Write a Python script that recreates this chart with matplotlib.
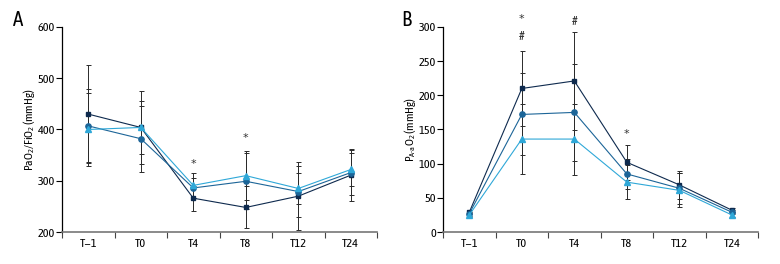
import matplotlib
matplotlib.use("Agg")
import matplotlib.pyplot as plt
import numpy as np

plt.rcParams["font.family"] = ["Asap Condensed", "Archivo Narrow", "DejaVu Sans"]
plt.rcParams["mathtext.fontset"] = "custom"
plt.rcParams["mathtext.rm"] = "Asap Condensed"
plt.rcParams["mathtext.it"] = "Asap Condensed"

timepoints = ["T\u22121", "T0", "T4", "T8", "T12", "T24"]

# panel A: PaO2/FiO2
a_square = [430, 404, 266, 248, 270, 311]
a_square_err = [96, 71, 24, 41, 66, 50]
a_circle = [407, 382, 286, 299, 279, 316]
a_circle_err = [71, 64, 20, 55, 50, 44]
a_triangle = [400, 404, 291, 310, 285, 322]
a_triangle_err = [71, 51, 24, 48, 30, 32]
a_marks = [("*", 2, 333), ("*", 3, 384)]

# panel B: P(A-a)O2
b_square = [29, 210, 221, 102, 69, 32]
b_square_err = [3, 55, 72, 26, 21, 3]
b_circle = [27, 172, 175, 85, 64, 29]
b_circle_err = [3, 60, 71, 22, 23, 3]
b_triangle = [25, 136, 136, 73, 61, 25]
b_triangle_err = [3, 51, 52, 25, 25, 3]
b_marks = [("*", 1, 311), ("#", 1, 286), ("#", 2, 308), ("*", 3, 143)]

c_dark = "#0e2a4e"
c_mid = "#1c6598"
c_light = "#2fa8d8"
fs = 8.8

fig = plt.figure(figsize=(7.8, 2.64), dpi=100)


def draw_panel(ax, series, ylim, yticks, ylabel, marks, letter, letter_x):
    x = np.arange(len(timepoints))
    for vals, errs, color, marker, ms in series:
        ax.errorbar(x, vals, yerr=errs, fmt="none", ecolor="#2a2a2a",
                    elinewidth=0.7, capsize=1.8, capthick=0.7, zorder=2)
    for vals, errs, color, marker, ms in series:
        ax.plot(x, vals, color=color, marker=marker, markersize=ms,
                linewidth=0.8, zorder=3)
    for txt, xi, yv in marks:
        if txt == "*":
            ax.text(xi, yv, txt, ha="center", va="center", fontsize=8,
                    color="#333333", family="DejaVu Sans", clip_on=False)
        else:
            ax.text(xi, yv, txt, ha="center", va="center", fontsize=9,
                    color="#333333", clip_on=False)

    ax.set_xlim(-0.5, 5.5)
    ax.set_ylim(*ylim)
    ax.set_yticks(yticks)
    ax.set_xticks(x)
    ax.set_xticklabels(timepoints)
    ax.set_xticks(np.arange(-0.5, 6.0, 1.0), minor=True)
    ax.tick_params(axis="x", which="major", length=0, pad=4, labelsize=fs)
    ax.tick_params(axis="x", which="minor", length=4, width=0.8, color="#444444")
    ax.tick_params(axis="y", length=4, width=0.8, pad=1, labelsize=fs)
    ax.spines["top"].set_visible(False)
    ax.spines["right"].set_visible(False)
    ax.spines["left"].set_linewidth(0.9)
    ax.spines["bottom"].set_linewidth(1.2)
    ax.spines["bottom"].set_color("#777777")
    ax.set_ylabel(ylabel, fontsize=8.5)
    ax.yaxis.set_label_coords(-0.078, 0.5)
    fig.text(letter_x, 0.926, letter, fontsize=15, ha="left", va="center")


ax_a = fig.add_axes([0.0795, 0.121, 0.404, 0.777])
draw_panel(
    ax_a,
    [(a_square, a_square_err, c_dark, "s", 3.5),
     (a_circle, a_circle_err, c_mid, "o", 3.8),
     (a_triangle, a_triangle_err, c_light, "^", 3.8)],
    (200, 600), [200, 300, 400, 500, 600],
    r"PaO$_\mathregular{2}$/FiO$_\mathregular{2}$ (mmHg)",
    a_marks, "A", 0.016,
)

ax_b = fig.add_axes([0.568, 0.121, 0.404, 0.777])
draw_panel(
    ax_b,
    [(b_square, b_square_err, c_dark, "s", 3.5),
     (b_circle, b_circle_err, c_mid, "o", 3.8),
     (b_triangle, b_triangle_err, c_light, "^", 3.8)],
    (0, 300), [0, 50, 100, 150, 200, 250, 300],
    r"P$_\mathregular{A\text{-}a}$O$_\mathregular{2}$ (mmHg)",
    b_marks, "B", 0.515,
)

fig.savefig("out.png", dpi=100)
